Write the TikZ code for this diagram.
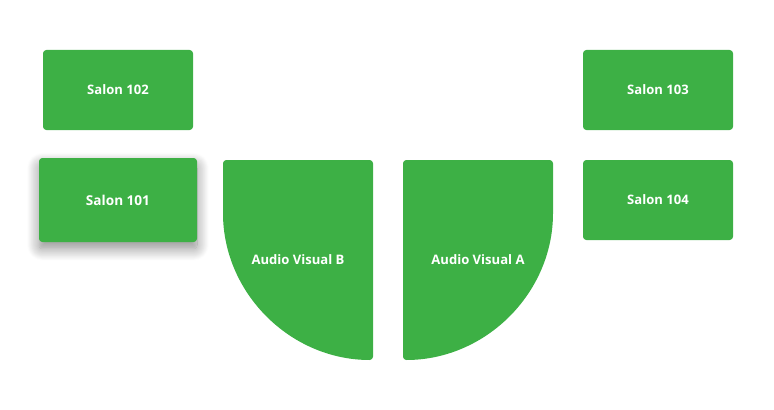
\documentclass[tikz,border=0pt]{standalone}
\usepackage{fontspec}
\setmainfont{Open Sans}
\usetikzlibrary{shadows.blur}
\definecolor{roomgreen}{RGB}{61,176,69}
\begin{document}
\begin{tikzpicture}[x=0.75pt,y=-0.75pt,
  room/.style={fill=roomgreen,draw=none,rounded corners=2.5pt,minimum width=112.5pt,minimum height=60pt,inner sep=0pt},
  lbl/.style={text=white,font=\fontsize{9.8}{11}\selectfont\bfseries}]
\useasboundingbox (0,0) rectangle (774,410);
\node[room] (s102) at (118,90) {};
\node[lbl] at (s102.center) {Salon 102};
\node[room] (s103) at (658,90) {};
\node[lbl] at (s103.center) {Salon 103};
\node[room] (s104) at (658,200) {};
\node[lbl] at (s104.center) {Salon 104};
\node[room,minimum width=118.5pt,minimum height=63pt,blur shadow={shadow xshift=0pt,shadow yshift=-5pt,shadow blur radius=9pt,shadow blur steps=14,shadow opacity=45}] (s101) at (118,200) {};
\node[lbl,font=\fontsize{10.2}{12}\selectfont\bfseries] at (s101.center) {Salon 101};
% Audio Visual B
\fill[roomgreen,rounded corners=2.5pt] (373,300) -- (373,160) -- (223,160) -- (223,210) arc[start angle=180,end angle=90,radius=150] -- cycle;
\node[lbl] (avb) at (298,260) {Audio Visual B};
% Audio Visual A
\fill[roomgreen,rounded corners=2.5pt] (403,300) -- (403,160) -- (553,160) -- (553,210) arc[start angle=0,end angle=90,radius=150] -- cycle;
\node[lbl] (ava) at (478,260) {Audio Visual A};
\end{tikzpicture}
\end{document}
